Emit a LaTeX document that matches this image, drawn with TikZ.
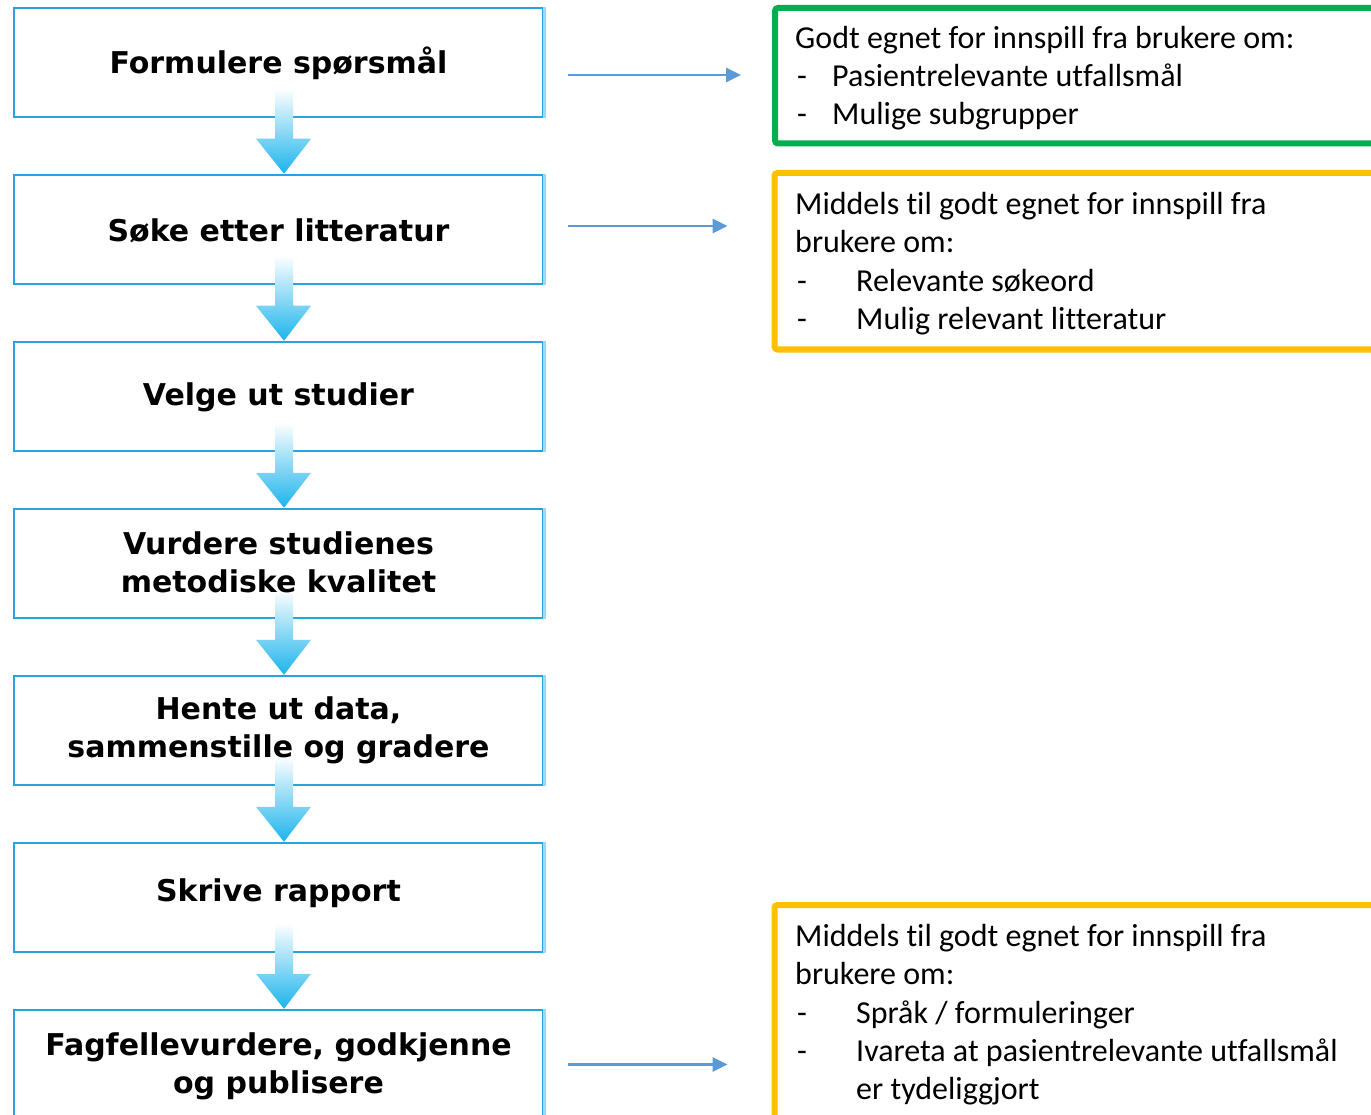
\documentclass[tikz,border=0pt]{standalone}
\usepackage{fontspec}
\setmainfont{Carlito}[Ligatures=NoCommon]
\newfontfamily\flowfont{DejaVu Sans}
\usetikzlibrary{calc,arrows.meta}
\definecolor{flowline}{RGB}{41,163,221}
\definecolor{flowlight}{RGB}{158,216,242}
\definecolor{flowarrow}{RGB}{27,180,236}
\definecolor{linkblue}{RGB}{91,155,213}
\definecolor{boxgreen}{RGB}{0,176,80}
\definecolor{boxyellow}{RGB}{255,192,0}
\tikzset{
  flowbox/.style={draw=flowline, line width=2.5pt, minimum width=529pt,
    minimum height=109pt, inner sep=0pt},
  flowtext/.style={inner sep=0pt, align=center,
    font=\flowfont\bfseries\fontsize{30}{38}\selectfont},
  linkarrow/.style={draw=linkblue, line width=2.8pt, -{Triangle[length=15pt,width=14pt]}},
  greenbox/.style={draw=boxgreen, line width=6pt, rounded corners=3pt, minimum width=625pt},
  yellowbox/.style={draw=boxyellow, line width=6pt, rounded corners=3pt, minimum width=625pt},
  rtext/.style={anchor=base west, inner sep=0pt, font=\fontsize{32}{38}\selectfont},
  flowshade/.style={top color=white, bottom color=flowarrow, draw=none}
}
\newcommand{\flowarr}[2]{%
  \shade[flowshade] ($(#1.south)+(-3.5,-30)$) -- ($(#2.north)+(-3.5,-35)$)
    -- ($(#2.north)+(-22.5,-35)$) -- ($(#2.north)+(5.5,0)$)
    -- ($(#2.north)+(32.5,-35)$) -- ($(#2.north)+(14.5,-35)$)
    -- ($(#1.south)+(14.5,-30)$) -- cycle;}
\newcommand{\lightedge}[1]{\draw[flowlight, line width=3pt] (#1.north east) -- (#1.south east);}
\begin{document}
\begin{tikzpicture}[x=1pt,y=-1pt]
\useasboundingbox (0,0) rectangle (1371,1115);
\clip (0,0) rectangle (1371,1115);
\fill[white] (0,0) rectangle (1371,1115);
% flow boxes
\node[flowbox] (b1) at (278.5,62.5) {};
\node[flowbox] (b2) at (278.5,229.5) {};
\node[flowbox] (b3) at (278.5,396.5) {};
\node[flowbox] (b4) at (278.5,563.5) {};
\node[flowbox] (b5) at (278.5,730.5) {};
\node[flowbox] (b6) at (278.5,897.5) {};
\node[flowbox] (b7) at (278.5,1064.5) {};
\foreach \b in {b1,b2,b3,b4,b5,b6,b7}{\lightedge{\b}}
% gradient arrows
\flowarr{b1}{b2}
\flowarr{b2}{b3}
\flowarr{b3}{b4}
\flowarr{b4}{b5}
\flowarr{b5}{b6}
\flowarr{b6}{b7}
% flow texts
\node[flowtext] (t1) at ([yshift=-1pt]b1.center) {Formulere spørsmål};
\node[flowtext] (t2) at ([yshift=-1pt]b2.center) {Søke etter litteratur};
\node[flowtext] (t3) at ([yshift=-1pt]b3.center) {Velge ut studier};
\node[flowtext] (t4) at ([yshift=1pt]b4.center) {Vurdere studienes\\metodiske kvalitet};
\node[flowtext] (t5) at ([yshift=0pt]b5.center) {Hente ut data,\\sammenstille og gradere};
\node[flowtext] (t6) at ([yshift=4pt]b6.center) {Skrive rapport};
\node[flowtext] (t7) at ([yshift=-2pt]b7.center) {Fagfellevurdere, godkjenne\\og publisere};
% right boxes
\node[greenbox, minimum height=135.5pt] (r1) at (1087.5,75.75) {};
\node[yellowbox, minimum height=176.5pt] (r2) at (1087,261.25) {};
\node[yellowbox, minimum height=235pt] (r3) at (1087,1022.5) {};
% link arrows
\draw[linkarrow, shorten >=31pt] ([xshift=24pt,yshift=-12.5pt]b1.east) -- ([yshift=-12.5pt]b1.east -| r1.west);
\draw[linkarrow, shorten >=44pt] ([xshift=24pt,yshift=3.5pt]b2.east) -- ([yshift=3.5pt]b2.east -| r2.west);
\draw[linkarrow, shorten >=44pt] ([xshift=24pt]b7.east) -- (b7.east -| r3.west);
% green box text
\node[rtext] (g1) at (795,49) {Godt egnet for innspill fra brukere om:};
\node[rtext] (g2d) at (797,87) {-};
\node[rtext] (g2) at (832,87) {Pasientrelevante utfallsmål};
\node[rtext] (g3d) at (797,125) {-};
\node[rtext] (g3) at (832,125) {Mulige subgrupper};
% yellow box 1 text
\node[rtext] (y1a) at (795,215) {Middels til godt egnet for innspill fra};
\node[rtext] (y1b) at (795,253) {brukere om:};
\node[rtext] (y1cd) at (797,292) {-};
\node[rtext] (y1c) at (856,292) {Relevante søkeord};
\node[rtext] (y1dd) at (797,330) {-};
\node[rtext] (y1d) at (856,330) {Mulig relevant litteratur};
% yellow box 2 text
\node[rtext] (y2a) at (795,946) {Middels til godt egnet for innspill fra};
\node[rtext] (y2b) at (795,984) {brukere om:};
\node[rtext] (y2cd) at (797,1023) {-};
\node[rtext] (y2c) at (856,1023) {Språk / formuleringer};
\node[rtext] (y2dd) at (797,1061) {-};
\node[rtext] (y2d) at (856,1061) {Ivareta at pasientrelevante utfallsmål};
\node[rtext] (y2e) at (856,1099) {er tydeliggjort};
\end{tikzpicture}
\end{document}
